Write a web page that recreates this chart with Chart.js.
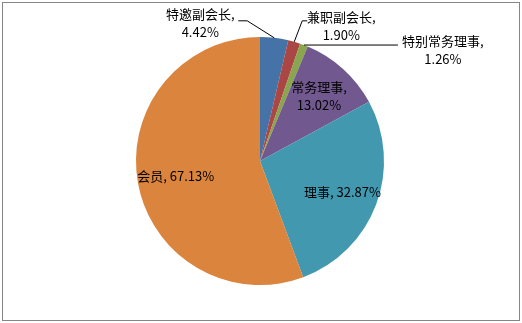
<!DOCTYPE html>
<html>
<head>
<meta charset="utf-8">
<script src="https://cdn.jsdelivr.net/npm/chart.js@4.4.1/dist/chart.umd.min.js"></script>
<style>
  html, body { margin: 0; padding: 0; background: #fff; }
  canvas { display: block; }
</style>
</head>
<body>
<canvas id="myChart" width="522" height="323"></canvas>
<script>
// data
const categories = ["特邀副会长", "兼职副会长", "特别常务理事", "常务理事", "理事", "会员"];
const percentValues = [4.42, 1.90, 1.26, 13.02, 32.87, 67.13];
const sliceColors = ["#4572A7", "#AA4643", "#89A54E", "#71588F", "#4198AF", "#DB843D"];

// how each label is placed: inside the slice, or outside with a leader line
// offsets are measured from the point on the rim at the middle of the slice
const labelStyles = [
  { mode: "out", lines: 2, elbow: [-27, -17], end: [-36, -17], text: [-74, -24] },
  { mode: "out", lines: 2, elbow: [8, -21], end: [13, -21], text: [47, -25] },
  { mode: "out", lines: 2, elbow: [94, 0], end: [94, 0], text: [139, -4] },
  { mode: "in", lines: 2, r: 0.71 },
  { mode: "in", lines: 1, r: 0.71 },
  { mode: "in", lines: 1, r: 0.69 },
];

const FONT = '13px "Noto Sans CJK SC", "Noto Sans", sans-serif';

const labelPlugin = {
  id: "pieLabels",
  afterDatasetsDraw(chart) {
    const c = chart.ctx;
    const meta = chart.getDatasetMeta(0);
    c.save();
    c.font = FONT;
    c.fillStyle = "#000";
    c.strokeStyle = "#000";
    c.lineWidth = 1;
    c.textAlign = "center";
    c.textBaseline = "middle";
    meta.data.forEach((arc, i) => {
      const p = arc.getProps(["x", "y", "startAngle", "endAngle", "outerRadius"], true);
      const mid = (p.startAngle + p.endAngle) / 2;
      const st = labelStyles[i];
      const pct = percentValues[i].toFixed(2) + "%";
      if (st.mode === "in") {
        const lx = p.x + Math.cos(mid) * p.outerRadius * st.r;
        const ly = p.y + Math.sin(mid) * p.outerRadius * st.r;
        if (st.lines === 2) {
          c.fillText(categories[i] + ",", lx, ly - 9);
          c.fillText(pct, lx, ly + 9);
        } else {
          c.fillText(categories[i] + ", " + pct, lx, ly);
        }
      } else {
        const ex = p.x + Math.cos(mid) * p.outerRadius;
        const ey = p.y + Math.sin(mid) * p.outerRadius;
        c.beginPath();
        c.moveTo(ex, ey);
        c.lineTo(ex + st.elbow[0], ey + st.elbow[1]);
        c.lineTo(ex + st.end[0], ey + st.end[1]);
        c.stroke();
        const tx = ex + st.text[0];
        const ty = ey + st.text[1];
        c.fillText(categories[i] + ",", tx, ty);
        c.fillText(pct, tx, ty + 18);
      }
    });
    c.restore();
  },
  afterDraw(chart) {
    // grey frame round the whole chart
    const c = chart.ctx;
    c.save();
    c.strokeStyle = "#868686";
    c.lineWidth = 1;
    c.strokeRect(2.5, 2.5, 517, 318);
    c.restore();
  },
};

const ctx = document.getElementById("myChart");

new Chart(ctx, {
  type: "pie",
  data: {
    labels: categories,
    datasets: [
      {
        data: percentValues,
        backgroundColor: sliceColors,
        borderWidth: 0,
      },
    ],
  },
  options: {
    responsive: false,
    animation: false,
    layout: {
      padding: { left: 136, right: 138, top: 37, bottom: 38 },
    },
    plugins: {
      legend: { display: false },
      tooltip: { enabled: false },
    },
  },
  plugins: [labelPlugin],
});
</script>
</body>
</html>
